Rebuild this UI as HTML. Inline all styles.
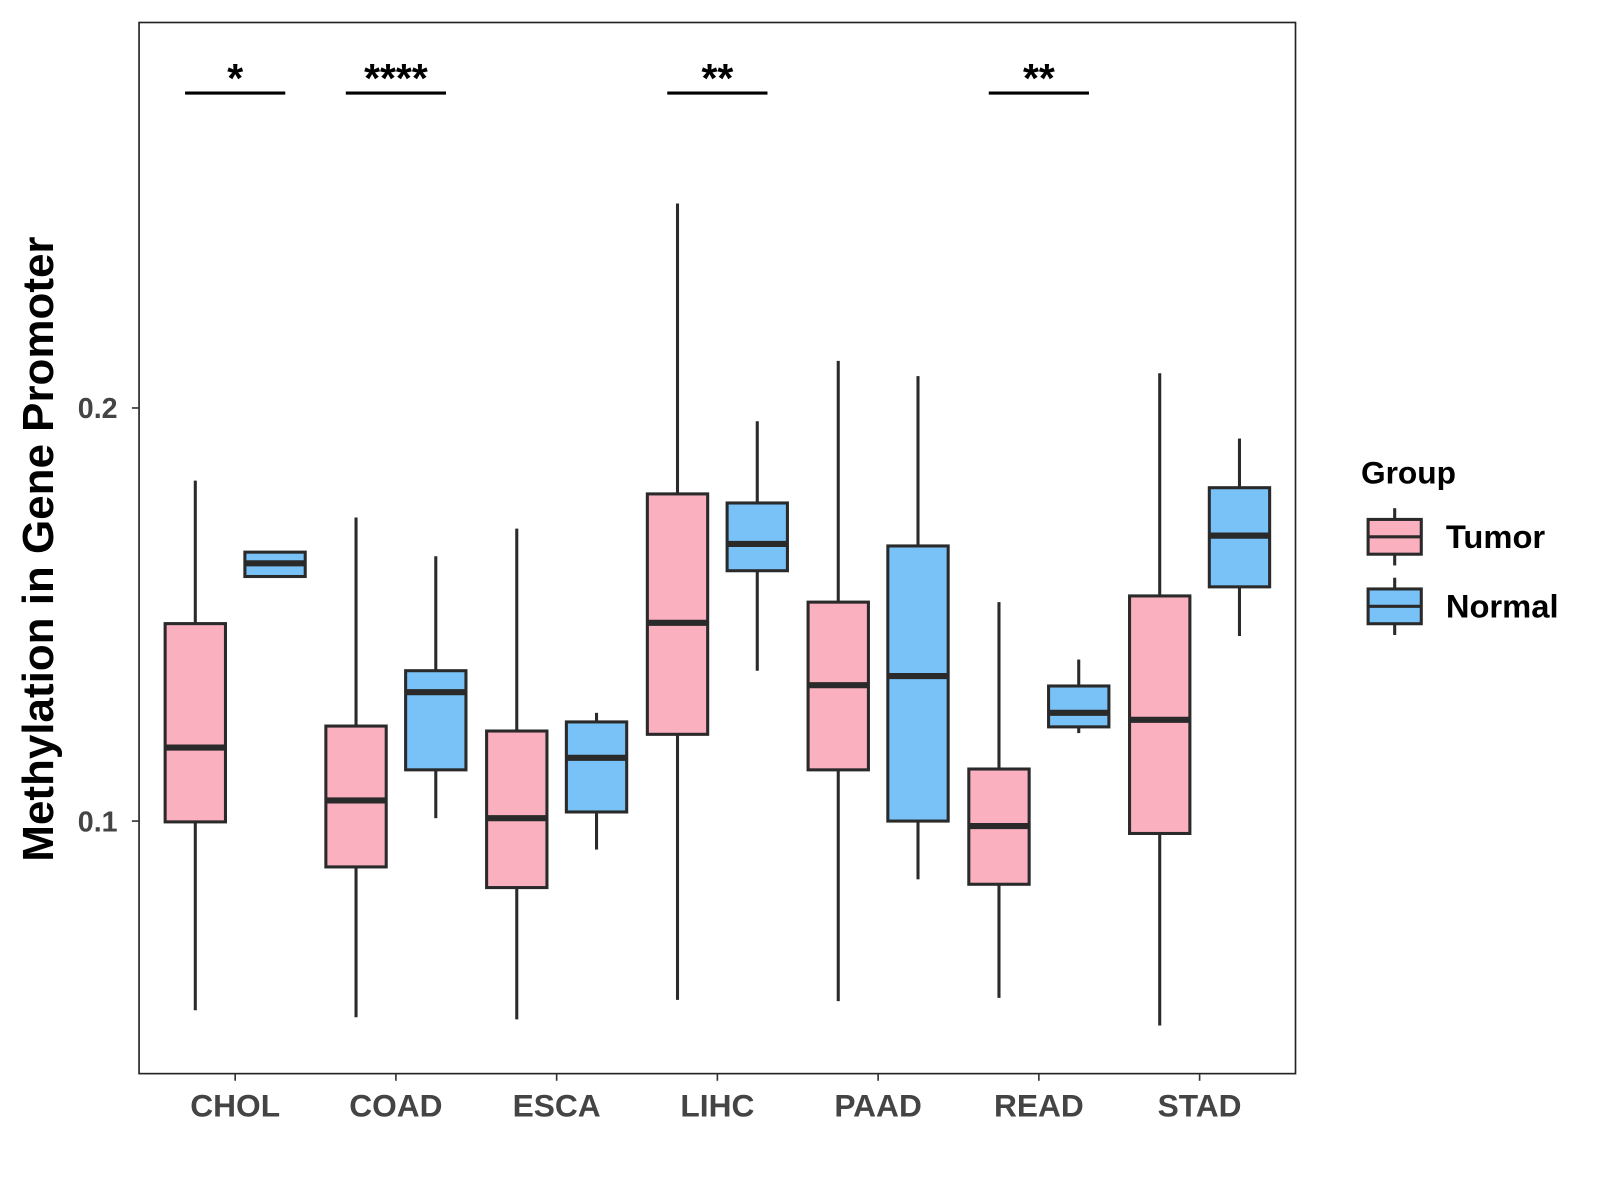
<!DOCTYPE html>
<html><head><meta charset="utf-8"><style>
html,body{margin:0;padding:0;background:#fff;}
svg{display:block;font-family:"Liberation Sans",Arial,sans-serif;}
</style></head><body>
<svg id="chart" width="1600" height="1200" viewBox="0 0 1600 1200" xmlns="http://www.w3.org/2000/svg"><g id="root" transform="scale(1.0225)"></g></svg>
<script>
const categories = ["CHOL","COAD","ESCA","LIHC","PAAD","READ","STAD"];
// [whiskerLow, q1, median, q3, whiskerHigh]
const tumorStats = [
  [0.0542,0.0998,0.1178,0.1478,0.1824],
  [0.0525,0.0889,0.1050,0.1230,0.1735],
  [0.0520,0.0839,0.1007,0.1218,0.1708],
  [0.0567,0.1210,0.1480,0.1792,0.2495],
  [0.0564,0.1124,0.1329,0.1530,0.2114],
  [0.0572,0.0847,0.0988,0.1126,0.1530],
  [0.0505,0.0970,0.1245,0.1545,0.2084]
];
const normalStats = [
  [0.1592,0.1592,0.1624,0.1651,0.1651],
  [0.1007,0.1124,0.1312,0.1364,0.1641],
  [0.0931,0.1022,0.1153,0.1240,0.1262],
  [0.1364,0.1606,0.1671,0.1770,0.1968],
  [0.0859,0.1000,0.1351,0.1666,0.2077],
  [0.1213,0.1228,0.1262,0.1327,0.1391],
  [0.1448,0.1567,0.1691,0.1807,0.1926]
];
const significance = ["*","****","","**","","**",""];
const yTicks = [0.1,0.2];

const svg = document.getElementById('root');
const NS = "http://www.w3.org/2000/svg";
const panel = {x0:136, x1:1267, y0:22, y1:1050};
const yScale = v => 399 + (0.2 - v) * 4040;
const xScale = i => 230 + i * 157.2;
function el(tag, attrs, parent){const e=document.createElementNS(NS,tag);for(const k in attrs)e.setAttribute(k,attrs[k]);(parent||svg).appendChild(e);return e;}

const frame = el('rect',{x:panel.x0,y:panel.y0,width:panel.x1-panel.x0,height:panel.y1-panel.y0,fill:'none',stroke:'#222','stroke-width':1.6});



yTicks.forEach(t=>{
  const y=yScale(t);
  const tk=el('line',{x1:129,x2:136,y1:y,y2:y,stroke:'#333','stroke-width':1.6});
  
  
  const tx=el('text',{x:115,y:y+10,'text-anchor':'end','font-size':28,'font-weight':'bold',fill:'#444'});
  tx.textContent=String(t);
  
  
});

const yt=el('text',{transform:'translate(52,537) rotate(-90)','text-anchor':'middle','font-size':43,'font-weight':'bold',fill:'#000'});
yt.textContent='Methylation in Gene Promoter';



function drawBox(stats,cx,fill,name){
  const g=el('g',{});
  
  
  const w=59, [lo,q1,md,q3,hi]=stats;
  el('line',{x1:cx,x2:cx,y1:yScale(hi),y2:yScale(q3),stroke:'#2a2a2a','stroke-width':3},g);
  el('line',{x1:cx,x2:cx,y1:yScale(q1),y2:yScale(lo),stroke:'#2a2a2a','stroke-width':3},g);
  el('rect',{x:cx-w/2,y:yScale(q3),width:w,height:Math.max(yScale(q1)-yScale(q3),0.1),fill:fill,stroke:'#2a2a2a','stroke-width':3},g);
  el('line',{x1:cx-w/2,x2:cx+w/2,y1:yScale(md),y2:yScale(md),stroke:'#2a2a2a','stroke-width':6},g);
}

categories.forEach((c,i)=>{
  const cx=xScale(i);
  drawBox(tumorStats[i],cx-39,'#fbb0c0','box-tumor-'+c.toLowerCase());
  drawBox(normalStats[i],cx+39,'#78c2f7','box-normal-'+c.toLowerCase());
  const tk=el('line',{x1:cx,x2:cx,y1:1050,y2:1057,stroke:'#333','stroke-width':1.6});
  
  
  const tx=el('text',{x:cx,y:1092,'text-anchor':'middle','font-size':31,'font-weight':'bold',fill:'#444'});
  tx.textContent=c;
  
  
  if(significance[i]){
    const ln=el('line',{x1:cx-49,x2:cx+49,y1:91,y2:91,stroke:'#000','stroke-width':3});
    
    
    const st=el('text',{x:cx,y:90,'text-anchor':'middle','font-size':40,'font-weight':'bold',fill:'#000'});
    st.textContent=significance[i];
    
    
  }
});

const lt=el('text',{x:1331,y:473,'font-size':31,'font-weight':'bold',fill:'#000'});
lt.textContent='Group';


[['Tumor','#fbb0c0',525],['Normal','#78c2f7',593]].forEach(([lab,col,cy])=>{
  const g=el('g',{});
  
  
  el('line',{x1:1364,x2:1364,y1:cy-28,y2:cy+28,stroke:'#2a2a2a','stroke-width':3},g);
  el('rect',{x:1338,y:cy-17,width:52,height:34,fill:col,stroke:'#2a2a2a','stroke-width':3},g);
  el('line',{x1:1338,x2:1390,y1:cy,y2:cy,stroke:'#2a2a2a','stroke-width':3},g);
  const t=el('text',{x:1414,y:cy+11,'font-size':32,'font-weight':'bold',fill:'#000'},g);
  t.textContent=lab;
});
</script>
</body></html>
